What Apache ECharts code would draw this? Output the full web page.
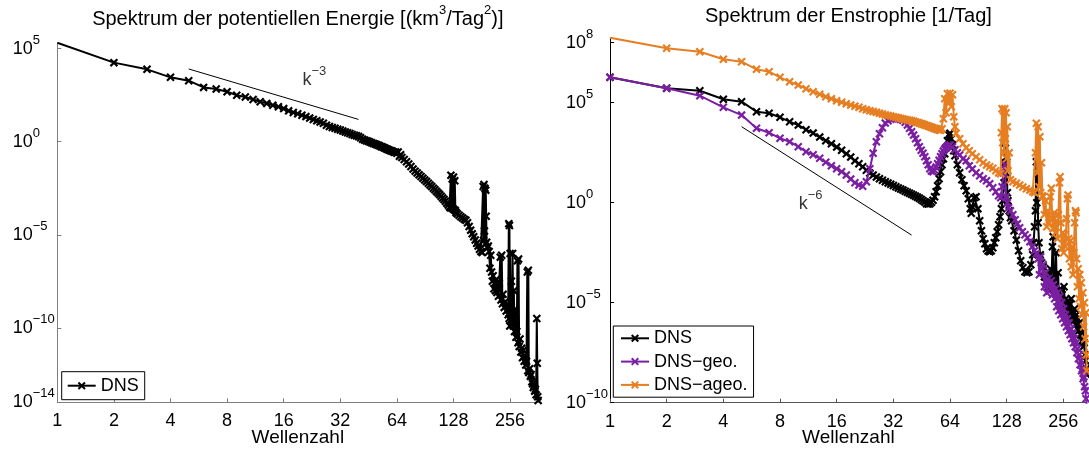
<!DOCTYPE html>
<html><head><meta charset="utf-8">
<script src="https://cdn.jsdelivr.net/npm/echarts@6/dist/echarts.min.js"></script>
<style>html,body{margin:0;padding:0;background:#fff}#c{width:1089px;height:449px}</style>
</head><body><div id="c"></div>
<script>
// ---- data: [wavenumber k, log10(spectrum)] ----
const xTickWavenumbers = [1, 2, 4, 8, 16, 32, 64, 128, 256];
const yTickExpPot = [-14, -10, -5, 0, 5];
const yTickExpEns = [-10, -5, 0, 5, 8];
const legendPot = ['DNS'];
const legendEns = ['DNS', 'DNS\u2212geo.', 'DNS\u2212ageo.'];

const potDNS = [[1,5.32],[2,4.25],[3,3.89],[4,3.46],[5,3.28],[6,2.92],[7,2.83],[8,2.69],[9,2.50],[10,2.40],[11,2.27],[12,2.15],[13,2.06],[14,1.96],[15,1.88],[16,1.78],[17,1.66],[18,1.57],[19,1.50],[20,1.42],[21,1.35],[22,1.27],[23,1.20],[24,1.13],[25,1.06],[26,0.99],[27,0.89],[28,0.82],[29,0.77],[30,0.72],[31,0.67],[32,0.63],[33,0.58],[34,0.53],[35,0.48],[36,0.44],[37,0.39],[38,0.35],[39,0.32],[40,0.28],[41,0.22],[42,0.14],[43,0.09],[44,0.05],[45,0.02],[46,-0.02],[47,-0.06],[48,-0.09],[49,-0.12],[50,-0.16],[51,-0.19],[52,-0.23],[53,-0.27],[54,-0.30],[55,-0.33],[56,-0.37],[57,-0.40],[58,-0.44],[59,-0.47],[60,-0.50],[61,-0.53],[62,-0.57],[63,-0.55],[64,-0.62],[65,-0.55],[66,-0.78],[67,-0.70],[68,-0.85],[70,-0.95],[72,-1.08],[74,-1.20],[76,-1.33],[78,-1.47],[80,-1.58],[82,-1.68],[84,-1.78],[86,-1.87],[88,-1.96],[90,-2.05],[92,-2.14],[94,-2.23],[96,-2.32],[98,-2.41],[100,-2.50],[102,-2.58],[104,-2.67],[106,-2.76],[108,-2.84],[110,-2.93],[112,-3.02],[114,-3.10],[116,-3.20],[118,-3.30],[120,-3.40],[122,-3.50],[123,-3.55],[124,-1.80],[125,-3.55],[126,-2.00],[127,-3.60],[128,-1.90],[129,-3.65],[130,-2.10],[131,-3.70],[132,-3.80],[134,-3.87],[137,-3.95],[140,-4.03],[143,-4.10],[146,-4.17],[149,-4.22],[152,-4.35],[155,-4.55],[158,-4.75],[161,-4.95],[164,-5.10],[167,-5.28],[170,-5.46],[173,-5.60],[176,-5.78],[179,-5.90],[182,-5.95],[184,-2.40],[185,-5.30],[186,-2.30],[187,-4.80],[188,-2.50],[189,-5.50],[190,-2.60],[191,-4.00],[192,-5.40],[194,-5.70],[196,-5.60],[198,-5.90],[200,-6.80],[202,-6.10],[204,-7.00],[206,-7.50],[208,-7.20],[210,-7.90],[212,-7.60],[214,-8.00],[216,-7.40],[218,-8.10],[220,-7.70],[222,-8.30],[224,-7.60],[227,-6.20],[229,-8.50],[231,-6.10],[233,-8.70],[235,-8.20],[238,-8.90],[241,-8.60],[244,-9.10],[247,-8.80],[250,-9.30],[252,-4.40],[253,-9.50],[254,-4.50],[255,-9.90],[256,-6.00],[258,-9.60],[260,-7.50],[262,-9.80],[264,-6.00],[266,-9.90],[268,-8.00],[270,-10.20],[272,-9.00],[275,-10.50],[278,-10.20],[280,-6.40],[282,-10.80],[284,-6.30],[286,-11.00],[289,-10.60],[292,-11.30],[295,-11.10],[298,-11.60],[301,-11.20],[304,-11.80],[307,-11.50],[310,-12.00],[313,-11.80],[316,-7.00],[318,-12.30],[320,-6.90],[322,-12.40],[325,-12.20],[328,-12.60],[331,-12.50],[334,-12.90],[337,-13.00],[340,-13.20],[343,-13.10],[346,-13.40],[349,-13.30],[352,-13.60],[355,-9.50],[357,-11.90],[359,-13.70],[361,-13.90]];

const ensDNS = [[1,6.27],[2,5.72],[3,5.60],[4,5.17],[5,5.05],[6,4.55],[7,4.47],[8,4.27],[9,4.05],[10,3.88],[11,3.65],[12,3.48],[13,3.28],[14,3.10],[15,2.95],[16,2.78],[17,2.62],[18,2.45],[19,2.28],[20,2.10],[21,1.95],[22,1.80],[23,1.62],[24,1.48],[25,1.38],[26,1.28],[27,1.20],[28,1.12],[29,1.05],[30,0.98],[31,0.92],[32,0.86],[33,0.80],[34,0.74],[35,0.68],[36,0.63],[37,0.57],[38,0.52],[39,0.47],[40,0.42],[41,0.37],[42,0.32],[43,0.27],[44,0.22],[45,0.16],[46,0.10],[47,0.03],[48,-0.05],[49,-0.07],[50,-0.05],[51,0.02],[52,0.12],[53,0.30],[54,0.55],[55,0.85],[56,1.20],[57,1.55],[58,1.90],[59,2.20],[60,2.45],[61,2.75],[62,3.10],[63,3.40],[64,3.47],[65,3.20],[66,2.90],[67,2.60],[68,2.35],[70,1.90],[72,1.50],[74,1.15],[76,0.85],[78,0.60],[80,0.20],[82,-0.30],[83,-0.53],[84,-0.20],[86,0.25],[88,0.30],[90,-0.30],[92,-0.90],[94,-1.40],[96,-1.80],[98,-2.05],[100,-2.30],[102,-2.42],[104,-2.45],[106,-2.40],[108,-2.25],[110,-2.00],[112,-1.75],[114,-1.45],[116,-1.10],[118,-0.70],[120,-0.30],[122,0.10],[124,1.00],[125,2.00],[126,2.72],[127,1.50],[128,2.30],[129,0.50],[130,0.10],[132,-0.40],[134,-0.75],[136,-0.90],[140,-1.40],[144,-1.87],[148,-2.40],[152,-2.90],[156,-3.25],[160,-3.45],[164,-3.50],[168,-3.45],[172,-3.10],[176,-2.60],[178,-2.00],[180,-1.20],[182,-0.40],[184,2.05],[185,0.00],[186,1.50],[188,-1.00],[190,-2.00],[193,-2.60],[196,-3.00],[200,-3.20],[203,-3.70],[206,-4.00],[209,-3.60],[212,-4.20],[215,-4.40],[218,-3.30],[221,-4.10],[224,-2.20],[226,-1.70],[228,-3.80],[231,-4.50],[234,-2.50],[237,-4.70],[240,-3.50],[243,-4.90],[246,-4.30],[249,-5.00],[252,-4.60],[255,-5.20],[258,-4.20],[261,-5.30],[264,-4.80],[267,-5.40],[270,-4.90],[273,-5.50],[276,-5.10],[279,-5.60],[282,-4.80],[285,-5.70],[288,-5.53],[291,-5.90],[294,-5.30],[297,-6.10],[300,-5.60],[303,-6.30],[306,-5.80],[309,-6.40],[312,-6.00],[315,-6.60],[318,-6.30],[321,-6.90],[324,-6.60],[327,-7.20],[330,-7.00],[333,-7.60],[336,-7.90],[339,-8.30],[341,-8.60]];

const ensGeo = [[1,6.27],[2,5.72],[3,5.35],[4,4.77],[5,4.38],[6,3.72],[7,3.50],[8,3.22],[9,3.05],[10,2.80],[11,2.55],[12,2.40],[13,2.22],[14,2.02],[15,1.85],[16,1.70],[17,1.55],[18,1.38],[19,1.18],[20,1.00],[21,0.88],[22,0.82],[23,1.05],[24,1.70],[25,2.47],[26,3.05],[27,3.45],[28,3.75],[29,3.98],[30,4.10],[31,4.17],[32,4.21],[33,4.22],[34,4.20],[35,4.16],[36,4.12],[37,4.02],[38,3.88],[39,3.72],[40,3.55],[41,3.38],[42,3.20],[43,3.00],[44,2.80],[45,2.62],[46,2.47],[47,2.30],[48,2.10],[49,1.90],[50,1.70],[51,1.58],[52,1.55],[53,1.62],[54,1.78],[55,1.95],[56,2.12],[57,2.30],[58,2.45],[59,2.58],[60,2.68],[61,2.75],[62,2.82],[63,2.86],[64,2.88],[66,2.80],[68,2.65],[70,2.50],[72,2.38],[75,2.20],[78,2.10],[81,1.85],[84,1.68],[88,1.50],[92,1.35],[96,1.20],[100,1.10],[104,0.95],[108,0.75],[112,0.55],[116,0.35],[119,0.25],[121,0.80],[123,1.50],[125,1.90],[127,0.30],[129,0.00],[131,-0.25],[134,-0.40],[138,-0.60],[142,-0.85],[146,-1.05],[150,-1.25],[155,-1.45],[160,-1.60],[165,-1.75],[170,-1.95],[175,-2.20],[180,-2.40],[184,-2.55],[188,-2.80],[191,-3.60],[194,-2.70],[197,-3.30],[200,-3.10],[203,-4.20],[206,-3.50],[209,-4.50],[212,-3.80],[215,-4.00],[218,-4.30],[221,-3.90],[224,-4.60],[227,-4.10],[230,-4.80],[233,-4.30],[236,-5.20],[239,-4.50],[242,-5.40],[245,-4.70],[248,-5.60],[251,-5.00],[254,-5.80],[257,-5.30],[260,-6.00],[263,-5.60],[266,-6.20],[269,-5.80],[272,-6.40],[275,-6.00],[278,-6.60],[281,-6.30],[284,-6.80],[287,-6.50],[290,-7.00],[293,-6.80],[296,-7.20],[299,-7.00],[302,-7.50],[305,-7.30],[308,-7.80],[311,-7.60],[314,-8.10],[317,-7.90],[320,-8.40],[323,-8.30],[326,-8.80],[329,-8.70],[332,-9.20],[335,-9.40],[338,-9.80],[341,-10.20]];

const ensAgeo = [[1,8.25],[2,7.72],[3,7.55],[4,7.17],[5,7.05],[6,6.67],[7,6.55],[8,6.27],[9,6.05],[10,5.88],[11,5.70],[12,5.55],[13,5.42],[14,5.30],[15,5.20],[16,5.10],[17,5.02],[18,4.95],[19,4.88],[20,4.82],[21,4.77],[22,4.70],[23,4.65],[24,4.60],[25,4.56],[26,4.52],[27,4.47],[28,4.43],[29,4.39],[30,4.36],[31,4.33],[32,4.30],[33,4.27],[34,4.24],[35,4.21],[36,4.19],[37,4.16],[38,4.14],[39,4.12],[40,4.10],[41,4.07],[42,4.04],[43,4.01],[44,3.98],[45,3.95],[46,3.92],[47,3.89],[48,3.86],[49,3.83],[50,3.80],[51,3.77],[52,3.74],[53,3.71],[54,3.68],[55,3.66],[56,3.63],[57,3.62],[58,3.70],[59,4.20],[60,5.20],[61,4.50],[62,5.45],[63,5.00],[64,5.47],[65,4.80],[66,5.40],[67,4.30],[68,3.80],[69,3.47],[72,3.20],[75,2.95],[78,2.75],[81,2.60],[84,2.45],[88,2.30],[92,2.15],[96,2.00],[100,1.88],[104,1.80],[108,1.72],[112,1.60],[116,1.50],[119,1.45],[120,3.50],[121,4.70],[122,3.00],[123,4.60],[124,2.50],[125,4.70],[126,3.20],[127,4.50],[128,2.20],[129,3.80],[130,1.60],[132,2.50],[134,1.15],[138,1.05],[144,0.97],[150,0.88],[156,0.78],[163,0.70],[170,0.63],[176,0.55],[180,0.50],[182,2.50],[184,3.97],[186,1.50],[188,3.80],[190,0.80],[192,3.30],[194,0.50],[196,2.00],[198,0.35],[200,0.30],[203,-0.60],[206,0.10],[209,-1.20],[212,-0.40],[215,-1.00],[218,0.30],[221,0.72],[223,-0.80],[226,-1.30],[229,-0.50],[232,-1.50],[235,-0.90],[238,-1.80],[241,-0.60],[244,1.00],[246,1.30],[248,-1.00],[251,-2.30],[254,-1.50],[257,-2.50],[260,-1.60],[263,-2.20],[266,-0.80],[269,0.20],[271,0.39],[273,-1.80],[276,-2.80],[279,-1.90],[282,-3.20],[285,-2.20],[288,-3.60],[291,-2.50],[294,-1.00],[297,-0.40],[299,-0.50],[301,-2.80],[304,-4.20],[307,-3.30],[310,-4.80],[313,-3.60],[316,-5.20],[319,-4.00],[322,-5.60],[325,-4.50],[328,-6.20],[331,-5.00],[334,-6.80],[337,-5.50],[339,-7.60],[341,-8.40]];

// reference power laws k^-3 and k^-6
const refPot = [[5,3.91],[40,1.20]];
const refEns = [[5,3.80],[40,-1.62]];
const refPotLabelAt = [[20,3.32]];
const refEnsLabelAt = [[10,-0.07]];

// ---- chart ----
const FONT = '"Liberation Sans", Arial, Helvetica, sans-serif';
const toXY = d => d.map(p => [Math.log2(p[0]), p[1]]);
const XMARK = 'path://M1.8,0L5,3.2L8.2,0L10,1.8L6.8,5L10,8.2L8.2,10L5,6.8L1.8,10L0,8.2L3.2,5L0,1.8Z';
const sup = n => (n < 0 ? '\u2212' + (-n) : '' + n);
const expLabel = v => '{b|10}{s|' + sup(Math.round(v)) + '}';
const xTicks = xTickWavenumbers.map(k => Math.log2(k));
const RICH = { b: { fontSize: 18, lineHeight: 30, fontFamily: FONT, color: '#000' },
               s: { fontSize: 13, lineHeight: 12, verticalAlign: 'top', fontFamily: FONT, color: '#000' } };

function xAxisCfg(gi, max, col) {
  return {
    type: 'value', gridIndex: gi, min: 0, max: max,
    name: 'Wellenzahl', nameLocation: 'middle', nameGap: 26, nameMoveOverlap: false,
    nameTextStyle: { fontSize: 19, color: '#000', fontFamily: FONT },
    axisLine: { show: true, onZero: false, lineStyle: { color: col, width: 1 } },
    axisTick: { show: true, inside: true, length: 4, customValues: xTicks, lineStyle: { color: col } },
    axisLabel: { customValues: xTicks, margin: 10, fontSize: 18, color: '#000', fontFamily: FONT,
      formatter: v => String(Math.round(Math.pow(2, v))) },
    splitLine: { show: false }
  };
}
function yAxisCfg(gi, min, max, ticks, col, margin) {
  return {
    type: 'value', gridIndex: gi, min: min, max: max,
    axisLine: { show: true, onZero: false, lineStyle: { color: col, width: 1 } },
    axisTick: { show: true, inside: true, length: 4, customValues: ticks, lineStyle: { color: col } },
    axisLabel: { customValues: ticks, align: 'left', margin: margin, color: '#000', formatter: expLabel, rich: RICH },
    splitLine: { show: false }
  };
}
function specSeries(name, data, gi, color, z) {
  return {
    type: 'line', name: name, xAxisIndex: gi, yAxisIndex: gi, data: toXY(data), z: z,
    symbol: XMARK, symbolSize: 8.5, showSymbol: true, showAllSymbol: true,
    itemStyle: { color: color }, lineStyle: { color: color, width: 2 },
    emphasis: { disabled: true }, silent: true, clip: true
  };
}
function refSeries(data, gi) {
  return { type: 'line', name: 'ref' + gi, xAxisIndex: gi, yAxisIndex: gi, data: toXY(data),
    symbol: 'none', lineStyle: { color: '#000', width: 1 }, silent: true, z: 1 };
}
function labelSeries(pt, text, gi) {
  return { type: 'scatter', name: 'lab' + gi, xAxisIndex: gi, yAxisIndex: gi, data: toXY(pt),
    symbolSize: 1, itemStyle: { color: 'rgba(0,0,0,0)' }, silent: true,
    label: { show: true, position: 'right', distance: 0, formatter: text, rich: RICH } };
}
function legendCfg(data, left, top, pad, gap) {
  return { data: data, left: left, top: top, orient: 'vertical', padding: pad, itemGap: gap,
    itemWidth: 28, itemHeight: 10, borderColor: '#000', borderWidth: 1, backgroundColor: '#fff',
    selectedMode: false, textStyle: { fontSize: 18, lineHeight: 18, color: '#000', fontFamily: FONT } };
}

const chart = echarts.init(document.getElementById('c'), null, { renderer: 'canvas' });
chart.setOption({
  animation: false,
  backgroundColor: '#fff',
  title: [
    { text: 'Spektrum der potentiellen Energie [(km{s|3}/Tag{s|2})]', left: 297.8, top: 4, textAlign: 'center', padding: 0,
      textStyle: { fontSize: 20, fontWeight: 'normal', color: '#000', fontFamily: FONT, lineHeight: 30,
        rich: { s: { fontSize: 13, lineHeight: 18, verticalAlign: 'top', fontFamily: FONT, color: '#000' } } } },
    { text: 'Spektrum der Enstrophie [1/Tag]', left: 848.4, top: 1, textAlign: 'center', padding: 0,
      textStyle: { fontSize: 20, fontWeight: 'normal', color: '#000', fontFamily: FONT, lineHeight: 30 } }
  ],
  grid: [
    { left: 57.3, top: 43.1, width: 481.1, height: 359.2, outerBoundsMode: 'none', containLabel: false },
    { left: 610, top: 38.1, width: 476.8, height: 364.6, outerBoundsMode: 'none', containLabel: false }
  ],
  xAxis: [xAxisCfg(0, 8.5, '#7f7f7f'), xAxisCfg(1, Math.log2(341), '#555')],
  yAxis: [yAxisCfg(0, -14, 5.3, yTickExpPot, '#7f7f7f', 44.6), yAxisCfg(1, -10, 8.23, yTickExpEns, '#000', 44)],
  legend: [legendCfg(legendPot, 61.7, 371.7, [5, 6, 5, 5], 5), legendCfg(legendEns, 613.3, 326, [3.3, 6, 3.3, 6.7], 5.3)],
  series: [
    refSeries(refPot, 0), labelSeries(refPotLabelAt, '{b|k}{s|\u22123}', 0),
    specSeries('DNS', potDNS, 0, '#000', 3),
    refSeries(refEns, 1), labelSeries(refEnsLabelAt, '{b|k}{s|\u22126}', 1),
    specSeries('DNS', ensDNS, 1, '#000', 3),
    specSeries('DNS\u2212geo.', ensGeo, 1, '#7b1fa2', 4),
    specSeries('DNS\u2212ageo.', ensAgeo, 1, '#e67e22', 5)
  ]
});
</script></body></html>
